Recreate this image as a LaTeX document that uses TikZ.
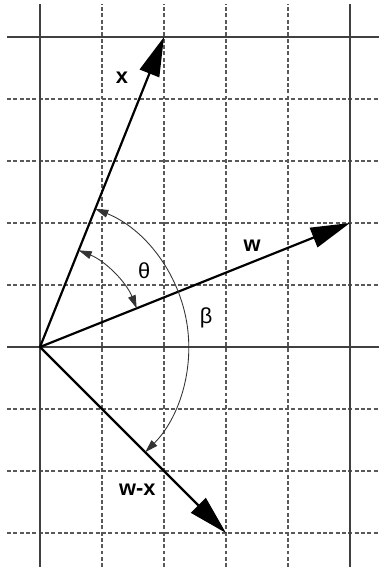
\documentclass[tikz,border=0pt]{standalone}
\usepackage{fontspec}
\setmainfont{Liberation Sans}
\usetikzlibrary{arrows.meta}
\begin{document}
\begin{tikzpicture}[x=1cm, y=1cm, every node/.style={font=\fontsize{10}{12}\selectfont\bfseries},
    gridsolid/.style={black!75, line width=0.55pt},
    griddash/.style={black!65, line width=0.5pt, dash pattern=on 1.8pt off 1.1pt},
    vec/.style={line width=1pt, -{Triangle[length=18pt, width=9.5pt]}},
    angarc/.style={black!80, line width=0.4pt, {Triangle[length=6pt, width=3.6pt]}-{Triangle[length=6pt, width=3.6pt]}}]
    \useasboundingbox (-0.645,-3.613) rectangle (5.468,5.597);
    % Grid lines (dashed first, solid axes on top)
    \foreach \x in {1,2,3,4}
        \draw[griddash] (\x,-3.55) -- (\x,5.53);
    \foreach \y in {-3,-2,-1,1,2,3,4}
        \draw[griddash] (-0.53,\y) -- (5.47,\y);
    \foreach \x in {0,5}
        \draw[gridsolid] (\x,-3.55) -- (\x,5.53);
    \foreach \y in {0,5}
        \draw[gridsolid] (-0.53,\y) -- (5.47,\y);
    % Vectors
    \coordinate (O) at (0,0);
    \coordinate (X) at (2,5);
    \coordinate (W) at (5,2);
    \coordinate (WX) at (3,-3);
    \draw[vec] (O) -- (X);
    \draw[vec] (O) -- (W);
    \draw[vec] (O) -- (WX);
    % Angles
    \draw[angarc] (O) ++(21.8:1.68) arc[start angle=21.8, end angle=68.2, radius=1.68];
    \draw[angarc] (O) ++(68.2:2.4) arc[start angle=68.2, end angle=-45, radius=2.4];
    % Labels
    \node (lx) at (1.32,4.35) {x};
    \node (lw) at (3.42,1.63) {w};
    \node (lwx) at (1.57,-2.31) {w-x};
    \node[font=\fontsize{10}{12}\selectfont] (ltheta) at (1.68,1.23) {θ};
    \node[font=\fontsize{10}{12}\selectfont] (lbeta) at (2.68,0.47) {β};
\end{tikzpicture}
\end{document}
